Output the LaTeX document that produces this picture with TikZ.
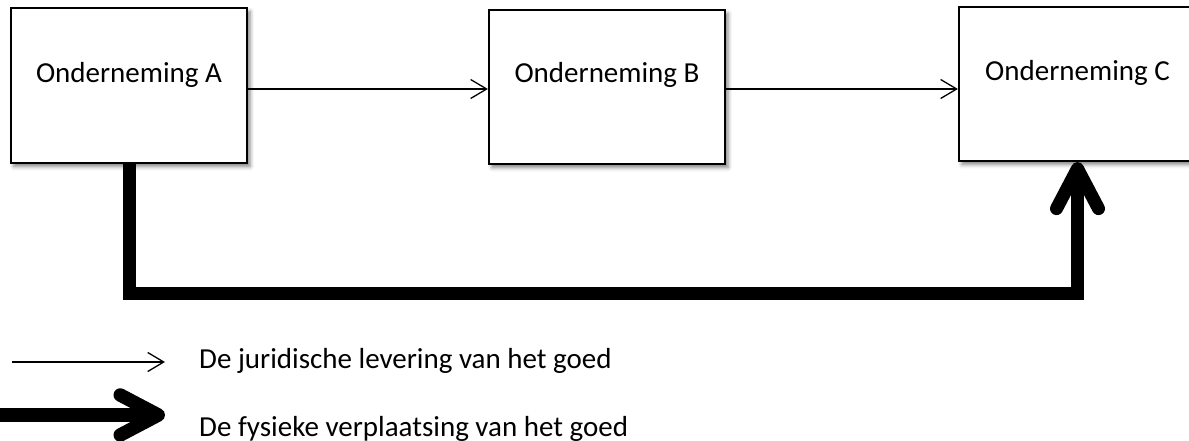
\documentclass[tikz,border=0pt]{standalone}
\usepackage{fontspec}
\setmainfont{Carlito}
\usetikzlibrary{arrows.meta,shadows.blur}

\tikzset{
  firm/.style={draw=black, line width=2.2pt, fill=white, inner sep=0pt,
    blur shadow={shadow xshift=3pt, shadow yshift=-3.5pt,
                 shadow blur radius=4pt, shadow opacity=50}},
  firmlabel/.style={inner sep=0pt, font=\fontsize{29}{34}\selectfont},
  legendlabel/.style={inner sep=0pt, font=\fontsize{29}{34}\selectfont},
  legal/.style={line width=1.3pt, -{Straight Barb[length=16pt,width=19pt]}},
  physical/.style={line width=13pt, line join=miter,
    -{Straight Barb[length=40pt,width=42pt,round]}},
  physicalkey/.style={line width=13.5pt,
    -{Straight Barb[length=38pt,width=40pt,round]}}
}

\begin{document}
\begin{tikzpicture}[x=1pt,y=-1pt]
\useasboundingbox (0,0) rectangle (1189,441);

% the three companies
\node[firm, minimum width=236pt, minimum height=155pt] (A) at (129,85.5) {};
\node[firm, minimum width=236pt, minimum height=154pt] (B) at (607,87) {};
\node[firm, minimum width=237pt, minimum height=154pt] (C) at (1077.5,84) {};

\node[firmlabel, anchor=base] (Alabel) at (129,83) {Onderneming A};
\node[firmlabel, anchor=base] (Blabel) at (607,83) {Onderneming B};
\node[firmlabel, anchor=base] (Clabel) at (1077.5,81) {Onderneming C};

% legal transfer: A -> B -> C
\coordinate (row) at (0,89);
\draw[legal] (A.east |- row) -- (B.west |- row);
\draw[legal] (B.east |- row) -- (C.west |- row);

% physical movement: A -> C directly
\coordinate (route) at (0,293);
\draw[physical] (A.south) -- (A.south |- route) -- (C.south |- route) -- (C.south);

% key
\coordinate (k1s) at (12,362);
\coordinate (k1e) at (165,362);
\draw[legal] (k1s) -- (k1e);
\node[legendlabel, anchor=base west] (k1) at (199,368) {De juridische levering van het goed};

\coordinate (k2s) at (0,415);
\coordinate (k2e) at (165,415);
\draw[physicalkey] (k2s) -- (k2e);
\node[legendlabel, anchor=base west] (k2) at (199,436) {De fysieke verplaatsing van het goed};
\end{tikzpicture}
\end{document}
